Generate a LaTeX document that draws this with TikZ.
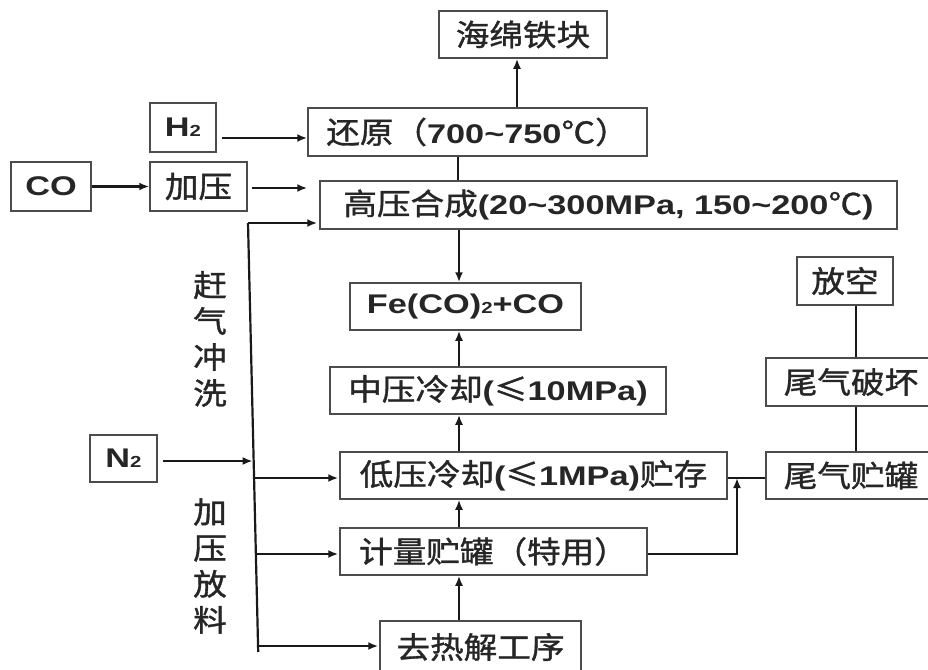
\documentclass[tikz,border=0pt]{standalone}
\usepackage{fontspec}
\setmainfont{Liberation Sans}[FakeStretch=1.27]
\newfontfamily\cjk{Noto Sans CJK SC}[FakeStretch=1.12,FakeBold=1.2]
\usetikzlibrary{arrows.meta}
\newcommand{\zh}[1]{{\cjk\fontsize{30}{36}\selectfont #1}}
\newcommand{\la}[1]{{\bfseries\fontsize{27}{32}\selectfont #1}}
\newcommand{\sub}[1]{{\bfseries\fontsize{16}{18}\selectfont #1}}
\newcommand{\tl}{\textasciitilde}
\begin{document}
\begin{tikzpicture}[x=1pt,y=-1pt,
  box/.style={draw=black!70,line width=1.5pt,inner sep=0pt,text=black!85},
  con/.style={draw=black!90,line width=2.2pt},
  arr/.style={con,-{Latex[length=10pt,width=8pt]}},
  vlab/.style={inner sep=0pt,align=center,text=black!85,font=\cjk\fontsize{30}{36}\selectfont}]
\useasboundingbox (0,0) rectangle (928,669);
\clip (0,0) rectangle (928,669);
\fill[white] (0,0) rectangle (928,669);
% boxes
\node[box,minimum width=168pt,minimum height=47pt] (sponge) at (523,34.5) {\zh{海绵铁块}};
\node[box,minimum width=66pt,minimum height=49pt] (h2) at (183,127.5) {\la{H}\sub{2}};
\node[box,minimum width=339pt,minimum height=48pt] (red) at (477.5,132) {\zh{还原（}\la{700\tl750}\zh{℃）}};
\node[box,minimum width=80pt,minimum height=49pt] (co) at (51,186.5) {\la{CO}};
\node[box,minimum width=97pt,minimum height=49pt] (press) at (198.5,186.5) {\zh{加压}};
\node[box,minimum width=577pt,minimum height=48pt] (syn) at (608.5,205) {\zh{高压合成}\la{(20\tl300MPa, 150\tl200}\zh{℃}\la{)}};
\node[box,minimum width=231pt,minimum height=47pt] (fe) at (465.5,306.5) {\la{Fe(CO)}\sub{2}\la{+CO}};
\node[box,minimum width=336pt,minimum height=47pt] (mid) at (498,390.5) {\zh{中压冷却}\la{(}\zh{≤}\la{10MPa)}};
\node[box,minimum width=387pt,minimum height=47pt] (low) at (533.5,475.5) {\zh{低压冷却}\la{(}\zh{≤}\la{1MPa)}\zh{贮存}};
\node[box,minimum width=307pt,minimum height=47pt] (meter) at (493.5,551.5) {\zh{计量贮罐（特用）}};
\node[box,minimum width=201pt,minimum height=52pt] (deh) at (480.5,647) {\zh{去热解工序}};
\node[box,minimum width=96pt,minimum height=48pt] (vent) at (845,281) {\zh{放空}};
\node[box,minimum width=170pt,minimum height=48pt] (destroy) at (851,382) {\zh{尾气破坏}};
\node[box,minimum width=170pt,minimum height=47pt] (tail) at (851,475.5) {\zh{尾气贮罐}};
\node[box,minimum width=67pt,minimum height=47pt] (n2) at (123.5,458.5) {\la{N}\sub{2}};
% vertical labels
\node[vlab] (lab1) at (210,339) {赶\\气\\冲\\洗};
\node[vlab] (lab2) at (210,566) {加\\压\\放\\料};
% helper coordinates
\coordinate (yH) at (0,138);
\coordinate (yP) at (0,188);
\coordinate (xS) at (517,0);
\coordinate (xA) at (458,0);
\coordinate (xC) at (459,0);
\coordinate (xR) at (856,0);
\coordinate (yT) at (0,478);
\coordinate (yM) at (0,554);
\coordinate (kink) at (737,554);
\coordinate (join) at (737,478);
\coordinate (busT) at (248,223);
\coordinate (busN) at (253.6,461);
\coordinate (busL) at (254,478);
\coordinate (busM) at (255.8,554);
\coordinate (busB) at (258,646);
\coordinate (busE) at (258.2,652);
% connectors
\draw[arr] (h2.east |- yH) ++(5,0) -- (red.west |- yH);
\draw[arr] (co) -- (press);
\draw[arr,shorten >=12pt] (press.east |- yP) ++(4,0) -- (syn.west |- yP);
\draw[arr] (red.north -| xS) -- (sponge.south -| xS);
\draw[con] (red.south -| xA) -- (syn.north -| xA);
\draw[arr] (syn.south -| xC) -- (fe.north -| xC);
\draw[arr] (mid.north -| xC) -- (fe.south -| xC);
\draw[arr] (low.north -| xC) -- (mid.south -| xC);
\draw[arr] (meter.north -| xC) -- (low.south -| xC);
\draw[arr] (deh.north -| xC) -- (meter.south -| xC);
\draw[con] (vent.south -| xR) -- (destroy.north -| xR);
\draw[con] (destroy.south -| xR) -- (tail.north -| xR);
\draw[con] (tail.west |- yT) -- (low.east |- yT);
\draw[arr] (meter.east |- yM) -- (kink) -- (join);
\draw[con] (busT) -- (busE);
\draw[arr,shorten >=2pt] (busT) -- (syn.west |- busT);
\draw[arr,shorten >=1pt] (n2.east |- busN) ++(5,0) -- (busN);
\draw[arr,shorten >=1pt] (busL) -- (low.west |- busL);
\draw[arr,shorten >=1pt] (busM) -- (meter.west |- busM);
\draw[arr,shorten >=1pt] (busB) -- (deh.west |- busB);
\end{tikzpicture}
\end{document}
